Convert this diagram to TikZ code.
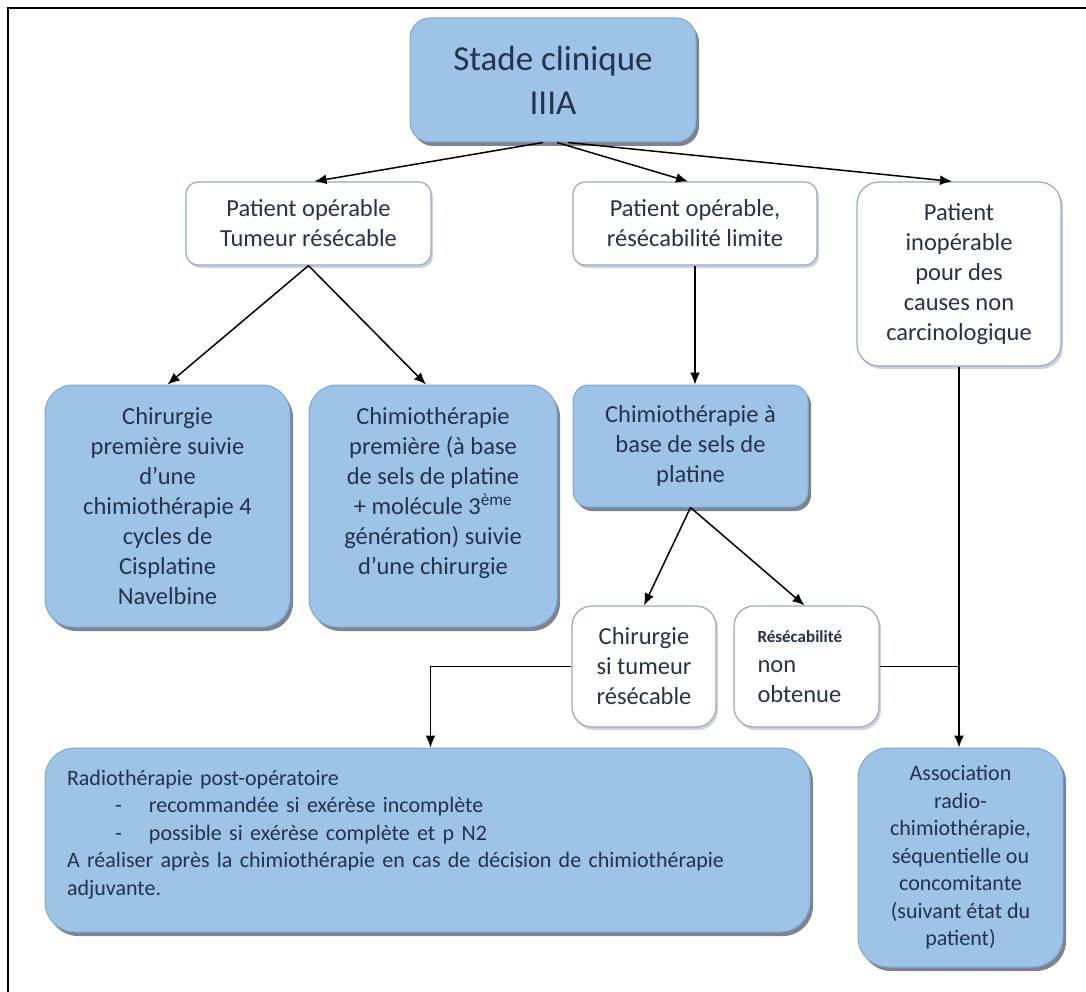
\documentclass[tikz,border=0pt]{standalone}
\usepackage{fontspec}
\setmainfont{Carlito}
\usetikzlibrary{arrows.meta,shadows}
\definecolor{boxblue}{RGB}{157,195,230}
\definecolor{boxedge}{RGB}{128,166,208}
\definecolor{shadowgray}{RGB}{100,110,125}
\definecolor{paleedge}{RGB}{150,170,192}
\definecolor{inkblue}{RGB}{36,50,76}
\tikzset{bluebox/.style = {draw=boxedge, fill=boxblue, line width=1pt, rounded corners=28pt, inner sep=0pt, align=center, text=inkblue, font=\fontsize{24.5}{30}\selectfont, drop shadow={shadow xshift=3pt, shadow yshift=-4pt, fill=shadowgray, opacity=0.85}}}
\tikzset{whitebox/.style = {draw=paleedge, fill=white, line width=1.2pt, rounded corners=16pt, inner sep=0pt, align=center, text=inkblue, font=\fontsize{24.5}{30}\selectfont, drop shadow={shadow xshift=2pt, shadow yshift=-3pt, fill=paleedge, opacity=0.5}}}
\tikzset{smalltext/.style = {font=\fontsize{22}{27.5}\selectfont}}

\begin{document}
\begin{tikzpicture}[x=1pt, y=-1pt, >={Latex[length=12pt,width=10pt]}, line width=1.5pt]
  \useasboundingbox (0,0) rectangle (1086,992);
  \draw[line width=2.5pt] (1086,8) -- (8,8) -- (8,992);

  \node [bluebox, rounded corners=20pt, minimum width=286pt, minimum height=124pt, font=\fontsize{35}{44}\selectfont] (stade) at (553,80) {Stade clinique\\IIIA};
  \node [whitebox, rounded corners=12pt, minimum width=245pt, minimum height=83pt] (opleft) at (308.5,223.5) {Patient opérable\\Tumeur résécable};
  \node [whitebox, rounded corners=12pt, minimum width=244pt, minimum height=83pt] (opmid) at (695,223.5) {Patient opérable,\\résécabilité limite};
  \node [whitebox, rounded corners=22pt, minimum width=204pt, minimum height=184pt] (inop) at (959,274) {Patient\\inopérable\\pour des\\causes non\\carcinologique};
  \node [bluebox, minimum width=245pt, minimum height=242pt] (chirprem) at (167.5,506) {Chirurgie\\première suivie\\d’une\\chimiothérapie 4\\cycles de\\Cisplatine\\Navelbine};
  \node [bluebox, minimum width=248pt, minimum height=242pt] (chimprem) at (433,506) {Chimiothérapie\\première (à base\\de sels de platine\\+ molécule 3\textsuperscript{ème}\\génération) suivie\\d’une chirurgie\\ \mbox{}};
  \node [bluebox, rounded corners=16pt, minimum width=235pt, minimum height=122pt] (chimplat) at (690.5,446) {Chimiothérapie à\\base de sels de\\platine};
  \node [whitebox, rounded corners=20pt, minimum width=144pt, minimum height=121pt] (chirsi) at (644,666.5) {Chirurgie\\si tumeur\\résécable};
  \node [whitebox, rounded corners=20pt, minimum width=145pt, minimum height=121pt, align=left, text width=98pt, inner xsep=23.5pt] (resec) at (806.5,666.5) {{\fontsize{17}{20}\selectfont\bfseries Résécabilité}\\non\\obtenue};
  \node [bluebox, smalltext, rounded corners=30pt, minimum width=765pt, minimum height=184pt, align=left, text width=721pt, inner xsep=22pt] (radio) at (427.5,840) {Radiothérapie post-opératoire\\
    \hspace*{48pt}\makebox[34pt][l]{-}recommandée si exérèse incomplète\\
    \hspace*{48pt}\makebox[34pt][l]{-}possible si exérèse complète et p N2\\
    A réaliser après la chimiothérapie en cas de décision de chimiothérapie\\
    adjuvante.\\[-13pt]\mbox{}};
  \node [bluebox, smalltext, rounded corners=30pt, minimum width=205pt, minimum height=219pt] (assoc) at (960.5,857.5) {Association\\radio-\\chimiothérapie,\\séquentielle ou\\concomitante\\(suivant état du\\patient)};

  \path[->] ([xshift=-10pt]stade.south) edge ([xshift=6pt]opleft.north);
  \path[->] ([xshift=4pt]stade.south) edge ([xshift=-7pt]opmid.north);
  \path[->] ([xshift=15pt]stade.south) edge ([xshift=-7pt]inop.north);
  \path[->] (opleft.south) edge (chirprem.north);
  \path[->] (opleft.south) edge ([xshift=-7pt]chimprem.north);
  \path[->] (opmid.south) edge (opmid.south |- chimplat.north);
  \path[->] (chimplat.south) edge (chirsi.north);
  \path[->] (chimplat.south) edge ([xshift=-2pt]resec.north);
  \path[->] (inop.south) edge (inop.south |- assoc.north);
  \draw[->] (chirsi.west) -| ([xshift=3pt]radio.north);
  \draw (resec.east) -- (resec.east -| inop.south);
\end{tikzpicture}
\end{document}
